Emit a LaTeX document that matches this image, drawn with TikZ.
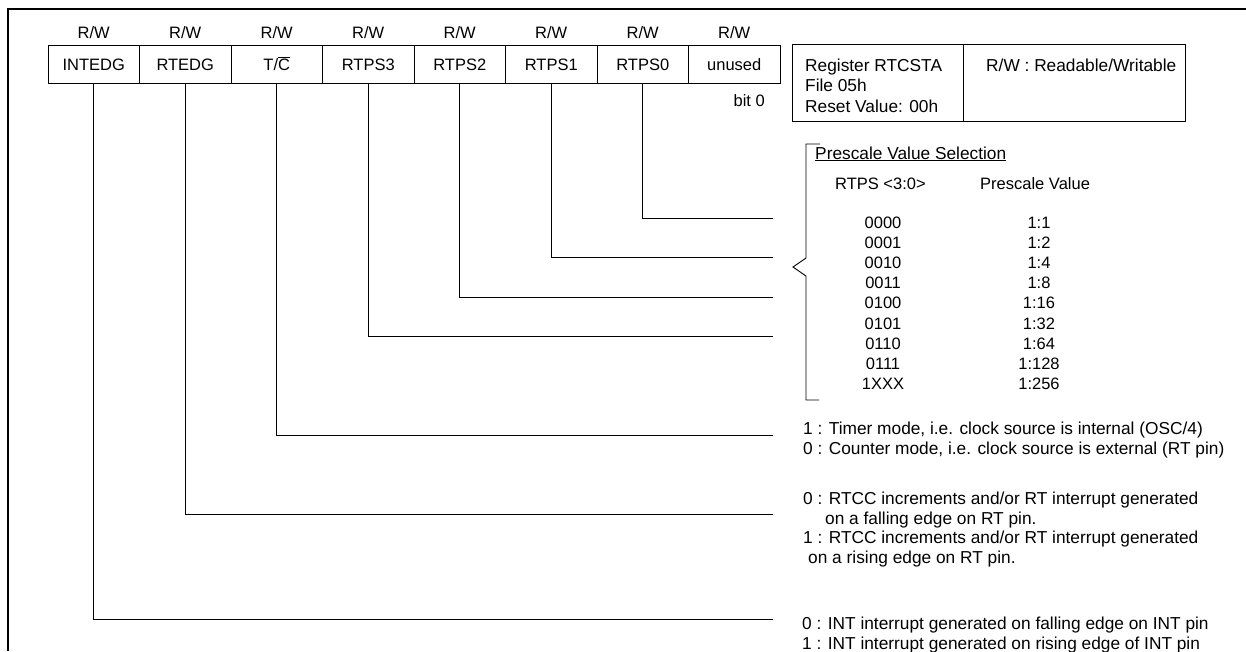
\documentclass[tikz,border=0pt]{standalone}
\usepackage{fontspec}
\setmainfont{Liberation Sans}
\begin{document}
\begin{tikzpicture}[x=1pt,y=-1pt,
  txt/.style={inner sep=0pt, font=\fontsize{16.5}{20}\selectfont, text height=12pt, text depth=0pt},
  big/.style={txt, font=\fontsize{17.3}{20}\selectfont},
  cell/.style={draw, line width=0.8pt, minimum width=91.5pt, minimum height=38pt, inner sep=0pt,
    font=\fontsize{16.5}{20}\selectfont, text height=12pt, text depth=0pt},
  infobox/.style={draw, line width=0.8pt, minimum height=77pt, anchor=north west, inner sep=0pt},
  wire/.style={line width=0.9pt},
  frame/.style={line width=1.6pt}]
\useasboundingbox (0,0) rectangle (1246,651);
% outer frame
\draw[frame] (1246,9) -- (8,9) -- (8,651);
% register cells
\node[cell] (c1) at (93.75,64) {INTEDG};
\node[cell] (c2) at (185.25,64) {RTEDG};
\node[cell] (c3) at (276.75,64) {T/$\overline{\mbox{C}}$};
\node[cell] (c4) at (368.25,64) {RTPS3};
\node[cell] (c5) at (459.75,64) {RTPS2};
\node[cell] (c6) at (551.25,64) {RTPS1};
\node[cell] (c7) at (642.75,64) {RTPS0};
\node[cell] (c8) at (734.25,64) {unused};
% R/W labels
\node[txt, anchor=base] (rw1) at (93.75,38) {R/W};
\node[txt, anchor=base] (rw2) at (185.25,38) {R/W};
\node[txt, anchor=base] (rw3) at (276.75,38) {R/W};
\node[txt, anchor=base] (rw4) at (368.25,38) {R/W};
\node[txt, anchor=base] (rw5) at (459.75,38) {R/W};
\node[txt, anchor=base] (rw6) at (551.25,38) {R/W};
\node[txt, anchor=base] (rw7) at (642.75,38) {R/W};
\node[txt, anchor=base] (rw8) at (734.25,38) {R/W};
\node[txt, anchor=base east] (bit0) at (765,106) {bit 0};
% info boxes
\node[infobox, minimum width=171pt] (info) at (792,44) {};
\node[infobox, minimum width=222pt] (rwbox) at (963,44) {};
\node[big, anchor=base west] (reg1) at (805,71) {Register RTCSTA};
\node[big, anchor=base west] (reg2) at (805,91) {File 05h};
\node[big, anchor=base west] (reg3) at (805,112) {Reset Value: 00h};
\node[big, anchor=base west] (rwdef) at (986,71) {R/W : Readable/Writable};
% prescale table
\draw[wire] (820,144) -- (806,144) -- (806,258) -- (793,267) -- (806,276) -- (806,400) -- (819,400);
\node[big, anchor=base west] (pvs) at (815,159) {\underline{Prescale Value Selection}};
\node[txt, anchor=base west] (hd1) at (835,189) {RTPS <3:0>};
\node[txt, anchor=base west] (hd2) at (980,189) {Prescale Value};
\node[txt, anchor=base] (k0) at (883,228) {0000};
\node[txt, anchor=base] (k1) at (883,248) {0001};
\node[txt, anchor=base] (k2) at (883,268) {0010};
\node[txt, anchor=base] (k3) at (883,288) {0011};
\node[txt, anchor=base] (k4) at (883,308) {0100};
\node[txt, anchor=base] (k5) at (883,329) {0101};
\node[txt, anchor=base] (k6) at (883,349) {0110};
\node[txt, anchor=base] (k7) at (883,369) {0111};
\node[txt, anchor=base] (k8) at (883,389) {1XXX};
\node[txt, anchor=base] (v0) at (1039,228) {1:1};
\node[txt, anchor=base] (v1) at (1039,248) {1:2};
\node[txt, anchor=base] (v2) at (1039,268) {1:4};
\node[txt, anchor=base] (v3) at (1039,288) {1:8};
\node[txt, anchor=base] (v4) at (1039,308) {1:16};
\node[txt, anchor=base] (v5) at (1039,329) {1:32};
\node[txt, anchor=base] (v6) at (1039,349) {1:64};
\node[txt, anchor=base] (v7) at (1039,369) {1:128};
\node[txt, anchor=base] (v8) at (1039,389) {1:256};
% descriptions
\node[big, anchor=base west] (tc1) at (803,434) {1 : Timer mode, i.e. clock source is internal (OSC/4)};
\node[big, anchor=base west] (tc0) at (803,454) {0 : Counter mode, i.e. clock source is external (RT pin)};
\node[big, anchor=base west] (re0) at (803,504) {0 : RTCC increments and/or RT interrupt generated};
\node[big, anchor=base west] (re0b) at (825,524) {on a falling edge on RT pin.};
\node[big, anchor=base west] (re1) at (803,543) {1 : RTCC increments and/or RT interrupt generated};
\node[big, anchor=base west] (re1b) at (808,563) {on a rising edge on RT pin.};
\node[big, anchor=base west] (ie0) at (802,629) {0 : INT interrupt generated on falling edge on INT pin};
\node[big, anchor=base west] (ie1) at (802,649) {1 : INT interrupt generated on rising edge of INT pin};
% connector ends
\coordinate (e7) at (773,218);
\coordinate (e6) at (773,257);
\coordinate (e5) at (773,297);
\coordinate (e4) at (773,336);
\coordinate (e3) at (773,435);
\coordinate (e2) at (773,514);
\coordinate (e1) at (773,619);
\draw[wire] (c7.south) |- (e7);
\draw[wire] (c6.south) |- (e6);
\draw[wire] (c5.south) |- (e5);
\draw[wire] (c4.south) |- (e4);
\draw[wire] (c3.south) |- (e3);
\draw[wire] (c2.south) |- (e2);
\draw[wire] (c1.south) |- (e1);
\end{tikzpicture}
\end{document}
